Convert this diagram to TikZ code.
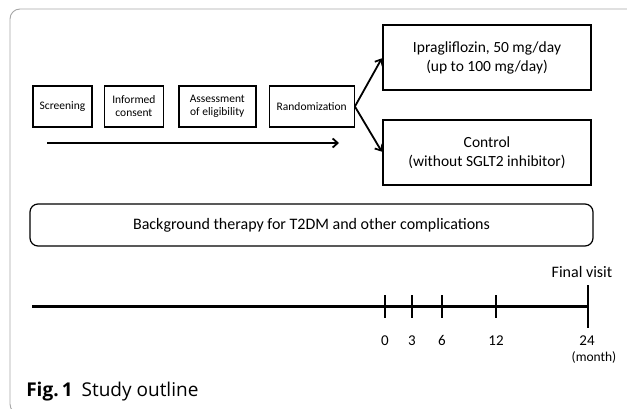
\documentclass[tikz,border=0pt]{standalone}
\usepackage{fontspec}
\setmainfont{Carlito}
\newfontfamily\capfont{Open Sans}
\usetikzlibrary{arrows.meta}
\usetikzlibrary{calc}
\usetikzlibrary{positioning}

\begin{document}
\begin{tikzpicture}[x=1pt,y=-1pt,->,>={Straight Barb[length=5pt,width=9pt]},semithick,node distance=11pt]
 				 \tikzstyle{stagebox}=[draw, line width=1.4pt, align=center, minimum height=41pt, inner sep=1pt, font=\fontsize{11.5}{13}\selectfont]
 				 \tikzstyle{armbox}=[draw, line width=1.4pt, align=center, minimum width=208pt, minimum height=65pt, font=\fontsize{15.5}{19}\selectfont]
 				 \tikzstyle{bgbox}=[draw, line width=1.2pt, rounded corners=8pt, minimum width=563pt, minimum height=42pt, font=\fontsize{16}{18}\selectfont]
 				 \tikzstyle{flowarrow}=[line width=1.8pt, shorten >=1pt]
 				 \tikzstyle{mark label}=[font=\fontsize{15}{17}\selectfont, inner sep=0pt, anchor=base]
 				 \useasboundingbox (0,0) rectangle (627,409);
 				 % outer frame
 				 \draw[-, gray!70, line width=0.9pt, rounded corners=10pt] (10,9) rectangle (660,414);
 					 \node[stagebox, minimum width=59pt] 			(scr) at (62.5,106.5)                    		{Screening};
 					 \node[stagebox, minimum width=59pt] 			(cons) [right=11pt of scr]                   		{Informed\\consent};
 					 \node[stagebox, minimum width=77pt] 			(elig) [right=14pt of cons]                   		{Assessment\\of eligibility};
 					 \node[stagebox, minimum width=85pt] 			(rand) [right=12pt of elig]                  		{Randomization};
 					 \node[armbox]          (ipra) at (487,57.5) {Ipragliflozin, 50 mg/day\\(up to 100 mg/day)};
 					 \node[armbox]          (ctrl) at (487,152.5) {Control\\(without SGLT2 inhibitor)};
 					 \node[bgbox]          (bg) at (311.5,225) {Background therapy for T2DM and other complications};
 					 \coordinate          (flow start) at (47,143);
 					 \coordinate          (flow end) at (340,143);
				\path
				(rand.east) edge[flowarrow] (ipra.west)
				(rand.east) edge[flowarrow] (ctrl.west)
				(flow start) edge[flowarrow] (flow end);
				% time axis
 					 \coordinate          (axis start) at (32,306.5);
 					 \coordinate          (axis end) at (588,306.5);
				\draw[-, line width=2.2pt] (axis start) -- (axis end);
				\foreach \x/\m in {385/0,412/3,442/6,496/12}{
					\draw[-, line width=1.3pt] (\x,295) -- (\x,318);
					\node[mark label] (m\m) at (\x,345.5) {\m};
				}
				\draw[-, line width=2.2pt] (588,285) -- (588,328);
				\node[mark label] (m24) at (587,345.5) {24};
				\node[mark label, font=\fontsize{13.5}{15}\selectfont] (unit) at (594,361.5) {(month)};
				\node[mark label, font=\fontsize{16}{18}\selectfont] (final) at (582,277.5) {Final visit};
				\node[anchor=base west, inner sep=0pt, font=\capfont\fontsize{19}{21}\selectfont] (cap) at (26,396) {\textbf{Fig.\,1}\hspace{9pt}Study outline};
\end{tikzpicture}
\end{document}
